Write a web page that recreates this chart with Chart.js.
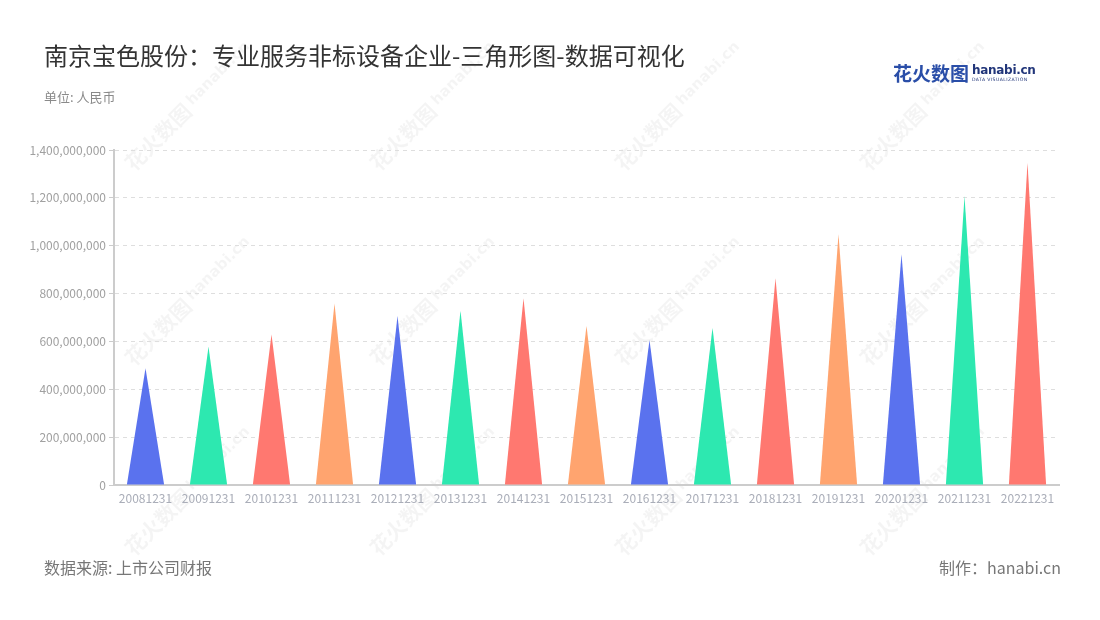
<!DOCTYPE html>
<html>
<head>
<meta charset="utf-8">
<script src="https://cdn.jsdelivr.net/npm/chart.js@4.4.1/dist/chart.umd.min.js"></script>
<style>
  html, body { margin: 0; padding: 0; background: #fff; }
  #wrap { position: relative; width: 1100px; height: 620px; overflow: hidden;
          font-family: "Noto Sans CJK SC", "Noto Sans", sans-serif; }
  #chart { position: absolute; left: 0; top: 0; }
  .title { position: absolute; left: 44px; top: 37px; font-size: 24px; color: #333; white-space: nowrap; }
  .unit { position: absolute; left: 44px; top: 87px; font-size: 13px; color: #8a8a8a; }
  .source { position: absolute; left: 44px; top: 555px; font-size: 16px; color: #777; }
  .maker { position: absolute; right: 39px; top: 555px; font-size: 16px; color: #777; }
  .logo { position: absolute; left: 893px; top: 59px; white-space: nowrap; }
  .logo .cn { font-size: 19px; font-weight: 700; color: #2a4ea8; vertical-align: top; }
  .logo .en { display: inline-block; vertical-align: top; margin-left: 3px; line-height: 1; }
  .logo .en b { display: block; font-family: "DejaVu Sans", sans-serif; font-size: 12px; color: #22367a; margin-top: 5px; letter-spacing: -0.3px; }
  .logo .en i { display: block; font-style: normal; font-family: "DejaVu Sans", sans-serif; font-size: 4.6px; color: #22367a; letter-spacing: 0.4px; margin-top: 2px; }
</style>
</head>
<body>
<div id="wrap">
  <canvas id="chart" width="1100" height="620"></canvas>
  <div class="title">南京宝色股份：专业服务非标设备企业-三角形图-数据可视化</div>
  <div class="unit">单位: 人民币</div>
  <div class="logo"><span class="cn">花火数图</span><span class="en"><b>hanabi.cn</b><i>DATA VISUALIZATION</i></span></div>
  <div class="source">数据来源: 上市公司财报</div>
  <div class="maker">制作：hanabi.cn</div>
</div>
<script>
  // Data
  const categories = ['20081231', '20091231', '20101231', '20111231', '20121231', '20131231', '20141231',
    '20151231', '20161231', '20171231', '20181231', '20191231', '20201231', '20211231', '20221231'];
  const values = [488e6, 578e6, 630e6, 759e6, 706e6, 728e6, 780e6,
    666e6, 606e6, 657e6, 864e6, 1048e6, 964e6, 1208e6, 1347e6];
  const palette = ['#5a72ee', '#2de8b0', '#ff7870', '#ffa46f'];
  const yTicks = [0, 200e6, 400e6, 600e6, 800e6, 1000e6, 1200e6, 1400e6];

  const colors = categories.map((_, i) => palette[i % palette.length]);

  // faint diagonal watermark in the background
  const watermark = {
    id: 'watermark',
    beforeDraw(chart) {
      const ctx = chart.ctx;
      const spots = [];
      [175, 420, 665, 910].forEach(x => {
        [120, 315, 505].forEach(y => spots.push([x, y]));
      });
      ctx.save();
      ctx.fillStyle = 'rgba(0,0,0,0.045)';
      spots.forEach(([x, y]) => {
        ctx.save();
        ctx.translate(x, y);
        ctx.rotate(-Math.PI / 4);
        ctx.font = 'bold 21px "Noto Sans CJK SC"';
        ctx.textBaseline = 'middle';
        ctx.fillText('花火数图', -66, 0);
        ctx.font = 'bold 15px "DejaVu Sans"';
        ctx.fillText('hanabi.cn', 22, -2);
        ctx.restore();
      });
      ctx.restore();
    }
  };

  // draw each bar as a triangle using the bar element geometry
  const triangles = {
    id: 'triangles',
    afterDatasetsDraw(chart) {
      const ctx = chart.ctx;
      const meta = chart.getDatasetMeta(0);
      ctx.save();
      meta.data.forEach((bar, i) => {
        const half = bar.width / 2;
        ctx.beginPath();
        ctx.moveTo(bar.x - half, bar.base);
        ctx.lineTo(bar.x, bar.y);
        ctx.lineTo(bar.x + half, bar.base);
        ctx.closePath();
        ctx.fillStyle = colors[i];
        ctx.fill();
      });
      ctx.restore();
    }
  };

  new Chart(document.getElementById('chart'), {
    type: 'bar',
    data: {
      labels: categories,
      datasets: [{
        data: values,
        backgroundColor: 'rgba(0,0,0,0)',
        borderWidth: 0,
        categoryPercentage: 1,
        barPercentage: 0.59
      }]
    },
    options: {
      responsive: false,
      animation: false,
      layout: { padding: { left: 0, top: 150, right: 41, bottom: 105 } },
      plugins: { legend: { display: false }, tooltip: { enabled: false } },
      scales: {
        x: {
          afterFit: s => { s.height = 30; },
          grid: { display: false, drawOnChartArea: false, drawTicks: true, tickLength: 5, color: '#ccc' },
          border: { display: true, color: '#ccc', width: 2 },
          ticks: { color: '#a9adb8', font: { family: 'Noto Sans CJK SC', size: 12 }, maxRotation: 0, autoSkip: false, padding: 1 }
        },
        y: {
          min: 0,
          max: 1400e6,
          afterFit: s => { s.width = 114; },
          afterBuildTicks: s => { s.ticks = yTicks.map(v => ({ value: v })); },
          grid: { color: '#dedede', tickColor: '#ccc', tickLength: 5, tickBorderDash: [0], drawTicks: true },
          border: { display: true, color: '#ccc', width: 2, dash: [4, 4] },
          ticks: {
            color: '#a0a0a0',
            font: { family: 'Noto Sans CJK SC', size: 12 },
            padding: 3,
            callback: v => v.toLocaleString('en-US')
          }
        }
      }
    },
    plugins: [watermark, triangles]
  });
</script>
</body>
</html>
